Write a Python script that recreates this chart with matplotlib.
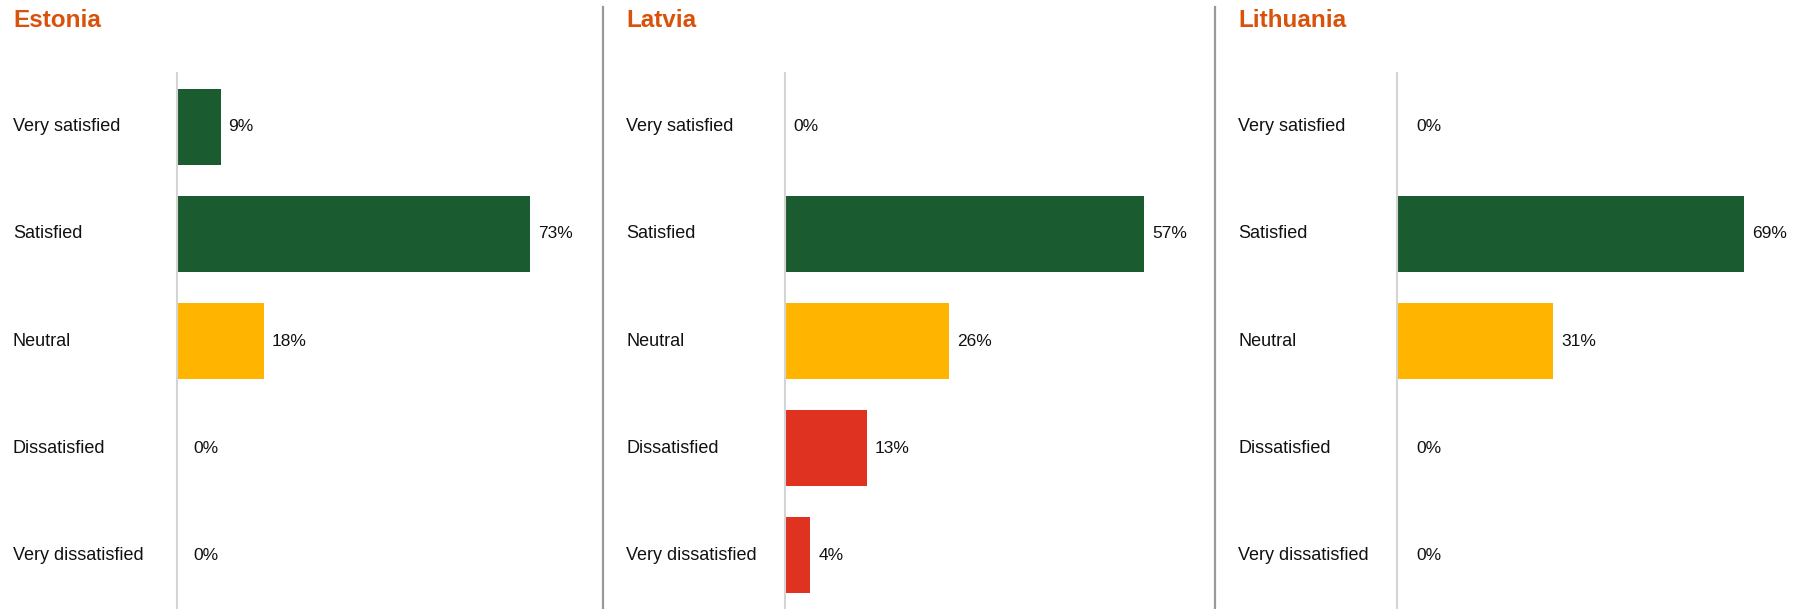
import matplotlib
matplotlib.use("Agg")
import matplotlib.pyplot as plt
from matplotlib.lines import Line2D
from matplotlib.transforms import blended_transform_factory

plt.rcParams['font.family'] = ['Liberation Sans', 'DejaVu Sans']

# survey answers per country (%)
categories = ["Very satisfied", "Satisfied", "Neutral", "Dissatisfied", "Very dissatisfied"]
countries = ["Estonia", "Latvia", "Lithuania"]
estonia = [9, 73, 18, 0, 0]
latvia = [0, 57, 26, 13, 4]
lithuania = [0, 69, 31, 0, 0]
values = [estonia, latvia, lithuania]

green = "#1a5c2f"
yellow = "#ffb500"
red = "#e03220"
bar_colors = [green, green, yellow, red, red]
title_color = "#d9520c"

W, H = 1795, 609
fig = plt.figure(figsize=(W / 100, H / 100), dpi=100)

# panel layout in pixels: label x, axis x, axis right edge, px per percent
label_x = [13, 626, 1238]
axis_x = [177, 785, 1397]
px_per_pct = [4.836, 6.30, 5.03]
right_x = [600, 1212, 1795]
zero_pad = [16, 8, 19]
ax_top = 73

for i, country in enumerate(countries):
    width_px = right_x[i] - axis_x[i]
    ax = fig.add_axes([axis_x[i] / W, 0, width_px / W, (H - ax_top) / H])
    vals = values[i]
    ypos = range(len(categories))
    ax.barh(ypos, vals, height=0.71, color=bar_colors, zorder=2)
    ax.set_xlim(0, width_px / px_per_pct[i])
    ax.set_ylim(len(categories) - 0.5, -0.5)
    for s in ["top", "right", "bottom"]:
        ax.spines[s].set_visible(False)
    ax.spines["left"].set_color("#d4d4d4")
    ax.spines["left"].set_linewidth(1.5)
    ax.spines["left"].set_zorder(3)
    ax.set_xticks([])
    ax.set_yticks([])

    # value labels
    for y, v in zip(ypos, vals):
        pad = 8 if v > 0 else zero_pad[i]
        ax.annotate(f"{v}%", (v, y), xytext=(pad * 0.72, 0),
                    textcoords="offset points", ha="left", va="center",
                    fontsize=12.5, color="#111111")

    # category labels on the left, in figure pixels
    trans = blended_transform_factory(fig.transFigure, ax.transData)
    for y, cat in zip(ypos, categories):
        ax.text(label_x[i] / W, y, cat, transform=trans, ha="left",
                va="center", fontsize=13, color="#111111", clip_on=False)

    fig.text(label_x[i] / W, (H - 27) / H, country, ha="left",
             va="baseline", fontsize=17.5, fontweight="bold", color=title_color)

# panel separators
for x in [603, 1215]:
    fig.add_artist(Line2D([x / W, x / W], [0, (H - 7) / H],
                          transform=fig.transFigure, color="#999999", linewidth=1.6))

fig.savefig("out.png", dpi=100)
